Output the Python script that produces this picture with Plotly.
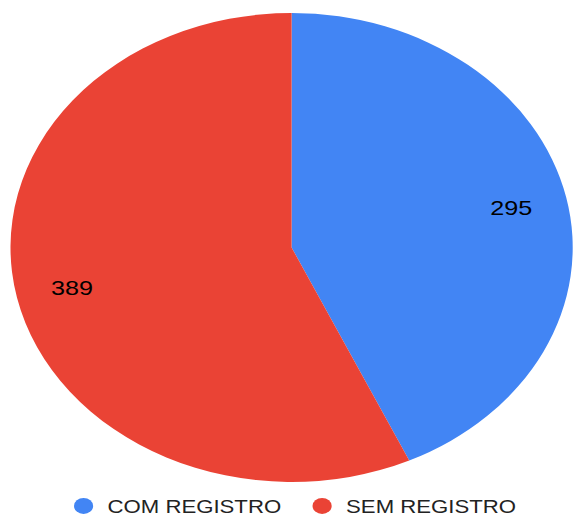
import plotly.graph_objects as go

categories = ["COM REGISTRO", "SEM REGISTRO"]
values = [295, 389]
colors = ["#4285F4", "#EA4335"]

W, H = 478, 518
STRETCH = 573 / W

fig = go.Figure()
dom = dict(x=[0.0178, 1.0], y=[0.0695, 0.9749])
# filled pie (no text)
fig.add_trace(go.Pie(
    labels=categories, values=values, sort=False, direction="clockwise", rotation=0,
    marker=dict(colors=colors, line=dict(width=0)),
    textinfo="none", domain=dom, showlegend=False,
    hoverinfo="label+value+percent",
))
# transparent ring carrying the value labels further out
fig.add_trace(go.Pie(
    labels=categories, values=values, sort=False, direction="clockwise", rotation=0,
    hole=0.6,
    marker=dict(colors=["rgba(0,0,0,0)"] * len(values), line=dict(width=0)),
    textinfo="value", textposition="inside", insidetextorientation="horizontal",
    textfont=dict(size=21, color="#000000", family="Arial, Liberation Sans"),
    domain=dom, showlegend=False, hoverinfo="skip",
))
for name, col in zip(categories, colors):
    fig.add_trace(go.Scatter(x=[None], y=[None], mode="markers", name=name,
                             marker=dict(symbol="circle", size=16, color=col)))

fig.update_layout(
    width=W, height=H, margin=dict(l=0, r=0, t=0, b=0, autoexpand=False),
    paper_bgcolor="white", plot_bgcolor="white",
    xaxis=dict(visible=False), yaxis=dict(visible=False),
    legend=dict(orientation="h", x=0.104, xanchor="left", y=0.059, yanchor="top",
                entrywidth=154, entrywidthmode="pixels",
                font=dict(size=18.5, color="#222222", family="Arial, Liberation Sans"),
                itemclick=False),
)

post = (
    "document.body.style.margin='0';"
    "var gd=document.getElementById('{plot_id}');"
    "gd.style.transformOrigin='0 0';"
    "gd.style.transform='scaleX(%f)';" % STRETCH
)
fig.write_html("out.html", post_script=post, config={"displayModeBar": False})
